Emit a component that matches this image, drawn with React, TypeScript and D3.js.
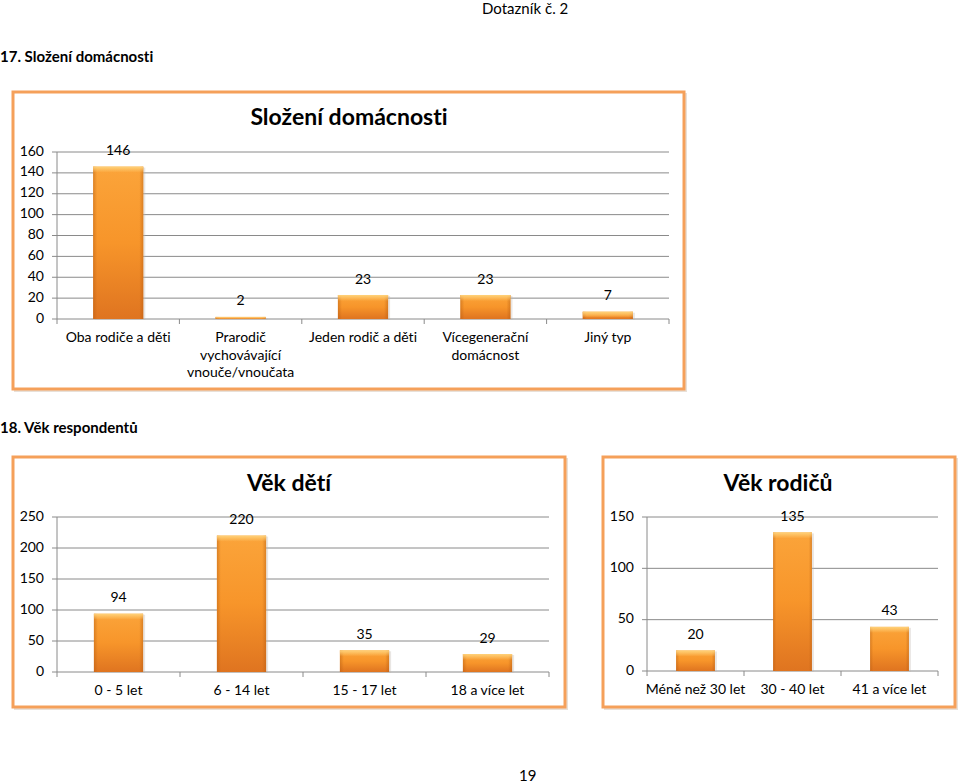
import React from "react";
import * as d3 from "d3";

// ---- Data ----
const householdCategories: string[][] = [
  ["Oba rodiče a děti"],
  ["Prarodič", "vychovávající", "vnouče/vnoučata"],
  ["Jeden rodič a děti"],
  ["Vícegenerační", "domácnost"],
  ["Jiný typ"],
];
const householdValues = [146, 2, 23, 23, 7];
const householdTicks = [0, 20, 40, 60, 80, 100, 120, 140, 160];

const childCategories: string[][] = [["0 - 5 let"], ["6 - 14 let"], ["15 - 17 let"], ["18 a více let"]];
const childValues = [94, 220, 35, 29];
const childTicks = [0, 50, 100, 150, 200, 250];

const parentCategories: string[][] = [["Méně než 30 let"], ["30 - 40 let"], ["41 a více let"]];
const parentValues = [20, 135, 43];
const parentTicks = [0, 50, 100, 150];

const FONT = "Lato, 'Open Sans', sans-serif";
const TXT: React.CSSProperties = { fontVariantLigatures: "none" };

type ChartProps = {
  id: string;
  frame: [number, number, number, number];
  plot: [number, number, number, number];
  title: string;
  titleY: number;
  titleX: number;
  categories: string[][];
  values: number[];
  ticks: number[];
  barFrac: number;
};

function BarChart(p: ChartProps) {
  const [fx0, fy0, fx1, fy1] = p.frame;
  const [px0, pyTop, px1, pyBot] = p.plot;
  const yMax = p.ticks[p.ticks.length - 1];
  const y = d3.scaleLinear().domain([0, yMax]).range([pyBot, pyTop]);
  const keys = p.categories.map((c) => c.join(" "));
  const x = d3.scaleBand<string>().domain(keys).range([px0, px1]).padding(0);
  const bw = x.bandwidth() * p.barFrac;
  const boundaries = d3.range(keys.length + 1).map((i) => px0 + i * x.step());
  return (
    <g>
      <rect x={fx0 + 2} y={fy0 + 2} width={fx1 - fx0} height={fy1 - fy0} fill="none" stroke="#e8e0d8" strokeWidth={2} />
      <rect x={fx0} y={fy0} width={fx1 - fx0} height={fy1 - fy0} fill="#fff" stroke="#f5a05a" strokeWidth={3} />
      <text x={p.titleX} y={p.titleY} textAnchor="middle" fontFamily={FONT} fontWeight="bold" fontSize={23} fill="#000" dominantBaseline="middle" style={TXT}>
        {p.title}
      </text>
      {p.ticks.map((t) => (
        <g key={t}>
          {t > 0 && <line x1={px0} x2={px1} y1={y(t)} y2={y(t)} stroke="#8a8a8a" strokeWidth={1} />}
          <line x1={px0 - 5} x2={px0} y1={y(t)} y2={y(t)} stroke="#8a8a8a" strokeWidth={1} />
          <text x={px0 - 13} y={y(t)} textAnchor="end" dominantBaseline="middle" fontFamily={FONT} fontSize={14} fill="#000" style={TXT}>
            {t}
          </text>
        </g>
      ))}
      <line x1={px0} x2={px0} y1={pyTop} y2={pyBot} stroke="#8a8a8a" strokeWidth={1} />
      <line x1={px0} x2={px1} y1={pyBot} y2={pyBot} stroke="#8a8a8a" strokeWidth={1} />
      {boundaries.map((b, i) => (
        <line key={i} x1={b} x2={b} y1={pyBot} y2={pyBot + 5} stroke="#8a8a8a" strokeWidth={1} />
      ))}
      {p.values.map((v, i) => {
        const cx = (x(keys[i]) as number) + x.bandwidth() / 2;
        const top = y(v);
        const h = pyBot - top;
        const hl = Math.min(6, h);
        return (
          <g key={i}>
            <rect x={cx - bw / 2 + 2} y={top + 1} width={bw} height={h} fill="#c0b8b0" opacity={0.35} />
            <rect x={cx - bw / 2} y={top} width={bw} height={h} fill={`url(#${p.id}-v)`} />
            <rect x={cx - bw / 2} y={top} width={bw} height={h} fill={`url(#${p.id}-h)`} />
            <rect x={cx - bw / 2} y={top} width={bw} height={hl} fill={`url(#${p.id}-t)`} />
            <text x={cx} y={top - 15} textAnchor="middle" dominantBaseline="middle" fontFamily={FONT} fontSize={14} fill="#000" style={TXT}>
              {v}
            </text>
          </g>
        );
      })}
      {p.categories.map((lines, i) => {
        const cx = (x(keys[i]) as number) + x.bandwidth() / 2;
        return (
          <text key={i} x={cx} y={pyBot + 19} textAnchor="middle" dominantBaseline="middle" fontFamily={FONT} fontSize={14} fill="#000" style={TXT}>
            {lines.map((l, j) => (
              <tspan key={j} x={cx} dy={j === 0 ? 0 : 17.5}>
                {l}
              </tspan>
            ))}
          </text>
        );
      })}
    </g>
  );
}

function Gradients({ id }: { id: string }) {
  return (
    <>
      <linearGradient id={`${id}-v`} x1="0" y1="0" x2="0" y2="1">
        <stop offset="0" stopColor="#fba43a" />
        <stop offset="0.5" stopColor="#f7952a" />
        <stop offset="1" stopColor="#df7420" />
      </linearGradient>
      <linearGradient id={`${id}-h`} x1="0" y1="0" x2="1" y2="0">
        <stop offset="0" stopColor="#b45a10" stopOpacity={0.45} />
        <stop offset="0.08" stopColor="#b45a10" stopOpacity={0} />
        <stop offset="0.92" stopColor="#b45a10" stopOpacity={0} />
        <stop offset="1" stopColor="#b45a10" stopOpacity={0.45} />
      </linearGradient>
      <linearGradient id={`${id}-t`} x1="0" y1="0" x2="0" y2="1">
        <stop offset="0" stopColor="#ffd27a" stopOpacity={1} />
        <stop offset="1" stopColor="#ffd27a" stopOpacity={0} />
      </linearGradient>
    </>
  );
}

export default function App() {
  return (
    <div style={{ position: "absolute", left: 0, top: 0 }}>
      <svg width={960} height={783} style={{ display: "block" }}>
        <defs>
          <Gradients id="a" />
          <Gradients id="b" />
          <Gradients id="c" />
        </defs>
        <rect width={960} height={783} fill="#fff" />
        <text x={482} y={14} fontFamily={FONT} fontSize={15} fill="#000" style={TXT}>Dotazník č. 2</text>
        <text x={0} y={62} fontFamily={FONT} fontSize={15} fontWeight="bold" fill="#000" style={TXT}>17. Složení domácnosti</text>
        <text x={0} y={433} fontFamily={FONT} fontSize={15} fontWeight="bold" fill="#000" style={TXT}>18. Věk respondentů</text>
        <text x={519} y={781} fontFamily={FONT} fontSize={15} fill="#000" style={TXT}>19</text>

        <BarChart
          id="a"
          frame={[13, 92, 684, 389]}
          plot={[57, 152, 669, 319]}
          title="Složení domácnosti"
          titleX={349}
          titleY={119}
          categories={householdCategories}
          values={householdValues}
          ticks={householdTicks}
          barFrac={0.41}
        />
        <BarChart
          id="b"
          frame={[13, 457, 565, 707]}
          plot={[57, 517, 549, 672]}
          title="Věk dětí"
          titleX={289}
          titleY={485}
          categories={childCategories}
          values={childValues}
          ticks={childTicks}
          barFrac={0.4}
        />
        <BarChart
          id="c"
          frame={[603, 457, 955, 707]}
          plot={[647, 517, 938, 671]}
          title="Věk rodičů"
          titleX={778}
          titleY={485}
          categories={parentCategories}
          values={parentValues}
          ticks={parentTicks}
          barFrac={0.4}
        />
      </svg>
    </div>
  );
}
